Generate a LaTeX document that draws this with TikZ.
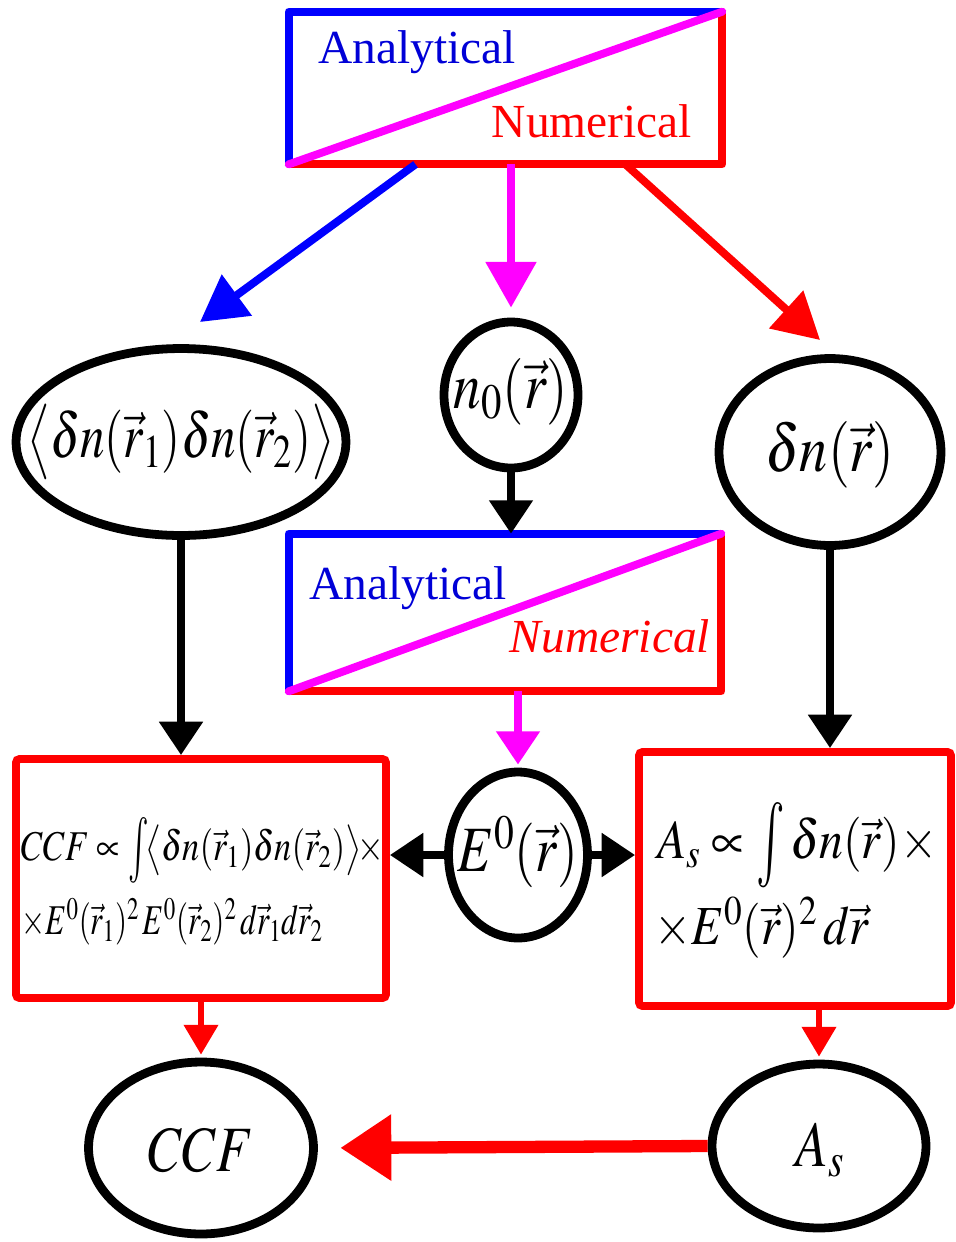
\documentclass[tikz,border=0pt]{standalone}
\usepackage{mathptmx}
\usepackage{graphicx}
\usepackage{fontspec}
\setmainfont{Liberation Serif}
\usetikzlibrary{arrows.meta,shapes.geometric,calc}
\definecolor{pblue}{RGB}{0,0,255}
\definecolor{tblue}{RGB}{0,0,215}
\definecolor{pred}{RGB}{255,0,0}
\definecolor{pmag}{RGB}{255,0,255}
\newcommand{\bigint}{\mathop{\vcenter{\hbox{\scalebox{1}[1.55]{$\int$}}}}\nolimits}
\tikzset{
  lw/.style={line width=4.5pt, line join=round},
  splitbox/.style={rectangle, inner sep=0pt},
  ell/.style={draw=black, ellipse, line width=5pt, inner sep=0pt},
  rbox/.style={draw=pred, line width=4.5pt, rounded corners=2pt, inner sep=0pt},
  atext/.style={text=tblue, font=\fontsize{27}{30}\selectfont, inner sep=0pt},
  ntext/.style={text=pred, font=\fontsize{27}{30}\selectfont, inner sep=0pt},
  mtext/.style={inner sep=0pt, font=\fontsize{#1}{#1}\selectfont},
  arrT/.style={line width=4.5pt, -{Triangle[length=26pt,width=28pt]}},
  arrK/.style={line width=4.5pt, -{Triangle[length=19pt,width=24pt]}},
  arrS/.style={line width=3.5pt, -{Triangle[length=17pt,width=19pt]}},
  arrL/.style={line width=7pt, -{Triangle[length=29pt,width=36pt]}},
}
\begin{document}
\begin{tikzpicture}[x=0.02cm,y=-0.02cm]
\useasboundingbox (0,0) rectangle (956,1242);

% top split box
\node[splitbox, minimum width=8.66cm, minimum height=3.04cm] (T) at (505.5,88) {};
\draw[pblue, lw] (T.south west) -- (T.north west) -- (T.north east);
\draw[pred, lw] (T.north east) -- (T.south east) -- (T.south west);
\draw[pmag, lw, line cap=round] (T.south west) -- (T.north east);
\node[atext] (Ta) at (417,52) {Analytical};
\node[ntext] (Tn) at (592,121) {Numerical};

% middle split box
\node[splitbox, minimum width=8.64cm, minimum height=3.14cm] (M) at (505,612.5) {};
\draw[pblue, lw] (M.south west) -- (M.north west) -- (M.north east);
\draw[pred, lw] (M.north east) -- (M.south east) -- (M.south west);
\draw[pmag, lw, line cap=round] (M.south west) -- (M.north east);
\node[atext] (Ma) at (408,588) {Analytical};
\node[ntext] (Mn) at (610,636) {\itshape Numerical};

% ellipses
\node[ell, minimum width=6.6cm, minimum height=3.74cm] (L) at (181,442) {};
\node[mtext=30] (Lt) at (181,442) {\scalebox{0.93}[1.2]{$\bigl\langle \delta n(\vec r_1)\delta n(\vec r_2)\bigr\rangle$}};
\node[ell, minimum width=2.68cm, minimum height=2.92cm] (N0) at (511,395) {};
\node[mtext=33] (N0t) at (511,392) {\scalebox{0.95}[1.15]{$n_0(\vec r)$}};
\node[ell, minimum width=4.44cm, minimum height=3.74cm] (D) at (830,452) {};
\node[mtext=33] (Dt) at (830,455) {\scalebox{0.97}[1.15]{$\delta n(\vec r)$}};
\node[ell, minimum width=2.78cm, minimum height=3.32cm] (E) at (518,855) {};
\node[mtext=32] (Et) at (518,852) {\scalebox{0.95}[1.15]{$E^0(\vec r)$}};
\node[ell, minimum width=4.5cm, minimum height=3.44cm] (C) at (201,1148) {};
\node[mtext=32] (Ct) at (201,1150) {\scalebox{0.95}[1.15]{$CCF$}};
\node[ell, minimum width=4.28cm, minimum height=3.28cm] (A) at (819,1146) {};
\node[mtext=32] (At) at (820,1150) {\scalebox{0.95}[1.15]{$A_s$}};

% formula boxes
\node[rbox, minimum width=7.4cm, minimum height=4.78cm] (CB) at (201,878.5) {};
\node[mtext=21, anchor=west] (CB1) at (21,850) {\scalebox{0.93}[1.15]{$CCF \propto \bigint\!\bigl\langle \delta n(\vec r_1)\delta n(\vec r_2)\bigr\rangle\!\times$}};
\node[mtext=21, anchor=west] (CB2) at (21,922) {\scalebox{0.84}[1.15]{$\times E^0(\vec r_1)^2\, E^0(\vec r_2)^2\, d\vec r_1 d\vec r_2$}};
\node[rbox, minimum width=6.24cm, minimum height=5.08cm] (RB) at (795,879) {};
\node[mtext=28, anchor=west] (RB1) at (657,845) {\scalebox{0.97}[1.12]{$A_s \propto \bigint \delta n(\vec r)\times$}};
\node[mtext=28, anchor=west] (RB2) at (654,928) {\scalebox{0.97}[1.12]{$\times E^0(\vec r)^2\, d\vec r$}};

% connectors
\coordinate (tipB) at (200,322);
\coordinate (tipR) at (820,340);
\draw[arrT, pblue] ([xshift=-1.8cm]T.south) -- (tipB);
\draw[arrT, pmag, shorten >=0.2cm] (T.south -| N0.north) -- (N0.north);
\draw[arrT, pred] ([xshift=2.4cm]T.south) -- (tipR);

\draw[arrK] (N0.south) -- (N0.south |- M.north);
\draw[arrK] (L.south) -- (L.south |- CB.north);
\draw[arrK] (D.south) -- (D.south |- RB.north);
\draw[arrK, pmag, shorten >=0.06cm] (M.south -| E.north) -- (E.north);
\draw[arrK] (E.west) -- (E.west -| CB.east);
\draw[arrK] (E.east) -- (E.east -| RB.west);

\draw[arrS, pred, shorten >=0.06cm] (CB.south -| C.north) -- (C.north);
\draw[arrS, pred, shorten >=0.06cm] (RB.south -| A.north) -- (A.north);
\draw[arrL, pred, shorten >=0.45cm] (A.west) -- (C.east);
\end{tikzpicture}
\end{document}
